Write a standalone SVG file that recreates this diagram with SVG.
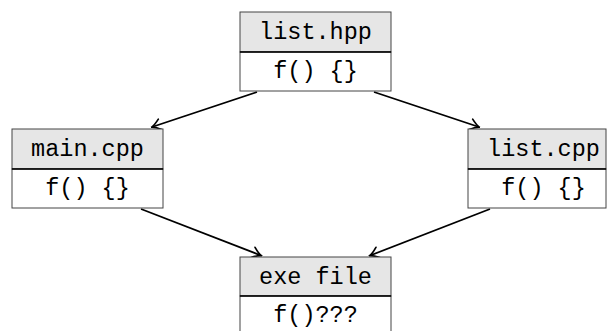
<svg xmlns="http://www.w3.org/2000/svg" width="607" height="331" viewBox="0 0 607 331">
  <style>
    .hdr { fill: #e6e6e6; stroke: #444; stroke-width: 1; }
    .body { fill: #ffffff; stroke: #444; stroke-width: 1; }
    .div { stroke: #000; stroke-width: 1.6; }
    .lbl { font-family: "Liberation Mono", "DejaVu Sans Mono", monospace; font-size: 23.5px; fill: #000; text-anchor: middle; }
    .edge { stroke: #000; stroke-width: 1.8; fill: none; marker-end: url(#tip); }
  </style>
  <defs>
    <marker id="tip" viewBox="-9 -7 11 14" refX="0.5" refY="0" markerWidth="11" markerHeight="14" markerUnits="userSpaceOnUse" orient="auto">
      <path d="M -8 -5.5 Q -2.5 -1 0.8 0 Q -2.5 1 -8 5.5" fill="none" stroke="#000" stroke-width="1.7" stroke-linecap="round"/>
    </marker>
  </defs>
  <g id="connectors">
    <line class="edge" x1="257" y1="92" x2="152" y2="127"/>
    <line class="edge" x1="374" y1="92" x2="479" y2="127"/>
    <line class="edge" x1="141" y1="209" x2="261" y2="255.5"/>
    <line class="edge" x1="490" y1="209" x2="370" y2="255.5"/>
  </g>
  <g id="list_hpp">
    <rect class="hdr" x="240" y="12" width="151" height="40"/>
    <rect class="body" x="240" y="52" width="151" height="39"/>
    <line class="div" x1="240" y1="52" x2="391" y2="52"/>
    <text class="lbl" x="315.5" y="38.5">list.hpp</text>
    <text class="lbl" x="315.5" y="77.5">f() {}</text>
  </g>
  <g id="main_cpp">
    <rect class="hdr" x="12" y="129" width="151" height="40"/>
    <rect class="body" x="12" y="169" width="151" height="39"/>
    <line class="div" x1="12" y1="169" x2="163" y2="169"/>
    <text class="lbl" x="87.5" y="155.5">main.cpp</text>
    <text class="lbl" x="87.5" y="194.5">f() {}</text>
  </g>
  <g id="list_cpp">
    <rect class="hdr" x="468" y="129" width="138" height="40"/>
    <rect class="body" x="468" y="169" width="138" height="39"/>
    <line class="div" x1="468" y1="169" x2="606" y2="169"/>
    <text class="lbl" x="543.5" y="155.5">list.cpp</text>
    <text class="lbl" x="543.5" y="194.5">f() {}</text>
  </g>
  <g id="exe_file">
    <rect class="hdr" x="240" y="257" width="151" height="39"/>
    <rect class="body" x="240" y="296" width="151" height="40"/>
    <line class="div" x1="240" y1="296" x2="391" y2="296"/>
    <text class="lbl" x="315.5" y="283.5">exe file</text>
    <text class="lbl" x="315.5" y="321.5">f()???</text>
  </g>
</svg>
